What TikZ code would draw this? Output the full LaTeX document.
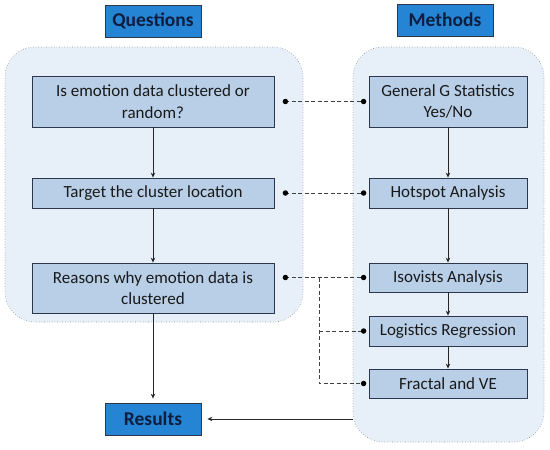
\documentclass[tikz,border=0pt]{standalone}
\usepackage{fontspec}
\setmainfont{Carlito}
\usetikzlibrary{arrows.meta,calc}
\definecolor{hdrfill}{RGB}{38,132,212}
\definecolor{hdrtext}{RGB}{14,30,62}
\definecolor{boxfill}{RGB}{184,207,231}
\definecolor{boxline}{RGB}{45,55,75}
\definecolor{contfill}{RGB}{231,240,249}
\definecolor{contline}{RGB}{140,140,140}
\definecolor{txt}{RGB}{25,25,25}
\tikzset{
  container/.style={draw=contline, dotted, fill=contfill, rounded corners=30pt, line width=0.6pt},
  header/.style={draw=boxline, fill=hdrfill, text=hdrtext, font=\fontsize{19.5}{22}\selectfont\bfseries, line width=0.8pt, inner sep=0pt},
  stepbox/.style={draw=boxline, fill=boxfill, text=txt, font=\fontsize{17}{21.5}\selectfont, align=center, line width=0.8pt, inner sep=0pt},
  flow/.style={draw=black!85, line width=0.8pt, -{Stealth[length=5pt,width=4.5pt]}},
  link/.style={draw=black!75, dash pattern=on 4pt off 2.5pt, line width=0.8pt},
  dotend/.style={circle, fill=black, inner sep=0pt, minimum size=5.5pt},
}
\begin{document}
\begin{tikzpicture}[x=1pt,y=-1pt]
\useasboundingbox (0,0) rectangle (550,450);
% containers
\node[container, minimum width=298pt, minimum height=275pt] (qc) at (154,184.5) {};
\node[container, minimum width=191pt, minimum height=395pt] (mc) at (448.5,244.5) {};
% headers
\node[header, minimum width=96pt, minimum height=32pt] (qh) at (153,21) {Questions};
\node[header, minimum width=96pt, minimum height=32pt] (mh) at (445,20) {Methods};
% question boxes
\node[stepbox, minimum width=242pt, minimum height=51pt] (q1) at (153,101.5) {Is emotion data clustered or\\random?};
\node[stepbox, minimum width=242pt, minimum height=30pt] (q2) at (153,193) {Target the cluster location};
\node[stepbox, minimum width=242pt, minimum height=50pt] (q3) at (153,288) {Reasons why emotion data is\\clustered};
% results
\node[header, minimum width=96pt, minimum height=32pt] (res) at (153,419) {Results};
% method boxes
\node[stepbox, minimum width=158pt, minimum height=51pt] (m1) at (448,101.5) {General G Statistics\\Yes/No};
\node[stepbox, minimum width=158pt, minimum height=30pt] (m2) at (448,193) {Hotspot Analysis};
\node[stepbox, minimum width=158pt, minimum height=29pt] (m3) at (448,277.5) {Isovists Analysis};
\node[stepbox, minimum width=158pt, minimum height=30pt] (m4) at (448,331) {Logistics Regression};
\node[stepbox, minimum width=158pt, minimum height=29pt] (m5) at (448,383.5) {Fractal and VE};
% flow arrows
\draw[flow] (q1) -- (q2);
\draw[flow] (q2) -- (q3);
\draw[flow, shorten >=4pt] (q3) -- (res);
\draw[flow] (m1) -- (m2);
\draw[flow] (m2) -- (m3);
\draw[flow] (m3) -- (m4);
\draw[flow] (m4) -- (m5);
\draw[flow, shorten >=6pt] (mc.west |- res.east) -- (res.east);
% dashed links
\coordinate (l1) at ([xshift=11pt]q1.east);
\coordinate (r1) at ([xshift=-5pt]m1.west);
\coordinate (l2) at ([xshift=11pt]q2.east);
\coordinate (r2) at ([xshift=-5pt]m2.west);
\coordinate (r3) at ([xshift=-5pt]m3.west);
\coordinate (l3) at (l1 |- r3);
\coordinate (r4) at ([xshift=-5pt]m4.west);
\coordinate (r5) at ([xshift=-5pt]m5.west);
\coordinate (br) at (319,0 |- r3);
\draw[link] (l1) -- (r1);
\draw[link] (l2) -- (r2);
\draw[link] (l3) -- (r3);
\draw[link] (br) |- (r5);
\draw[link] (br |- r4) -- (r4);
\foreach \p in {l1,r1,l2,r2,l3,r3,r4,r5} \node[dotend] at (\p) {};
\end{tikzpicture}
\end{document}
